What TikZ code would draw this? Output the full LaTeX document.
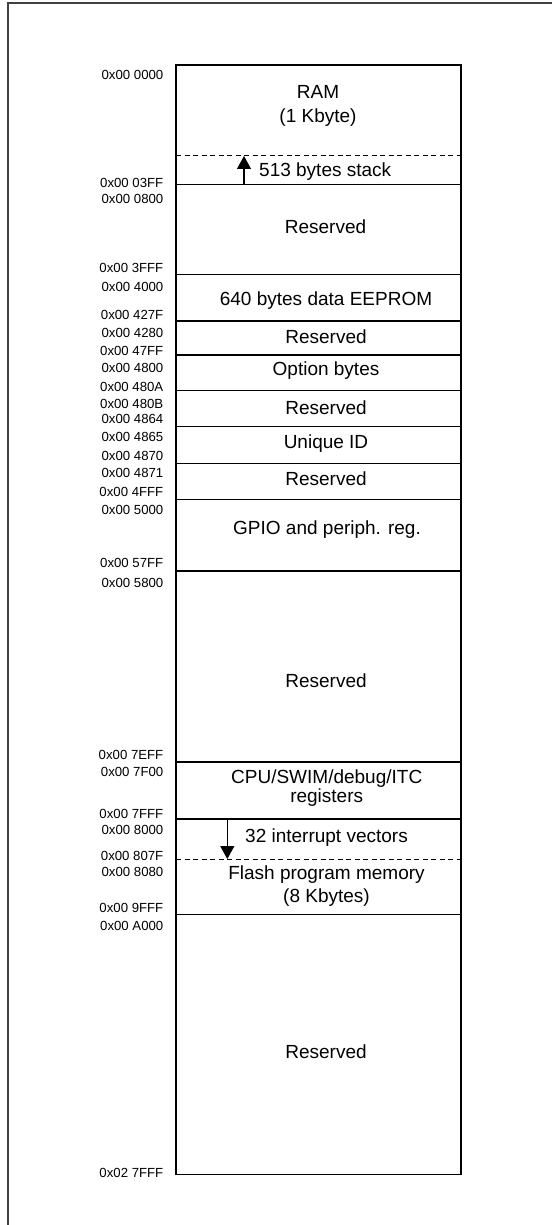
\documentclass[tikz,border=0pt]{standalone}
\usepackage{fontspec}
\setmainfont{Liberation Sans}
\usetikzlibrary{arrows.meta}
\begin{document}
\begin{tikzpicture}[x=1pt,y=-1pt,
  addr/.style={anchor=east,inner sep=0pt,font=\fontsize{13.2}{14}\selectfont},
  lbl/.style={anchor=center,inner sep=0pt,align=center,font=\fontsize{19}{19}\selectfont},
  sep/.style={line width=1.3pt},
  dsep/.style={line width=1pt,dash pattern=on 5pt off 3.5pt},
  arr/.style={line width=1.2pt,-{Triangle[width=14pt,length=13pt]}},
  frame/.style={line width=1.3pt,draw=black!75}]
\useasboundingbox (0,0) rectangle (552,1225);
% outer frame
\draw[frame] (8,1225) -- (8,3) -- (552,3);
% memory column
\def\L{176}\def\R{461}
\draw[sep] (\L,65) rectangle (\R,1174.3);
\foreach \y in {184.7,274.3,321,355,390.7,426.3,463.3,499.3,571,762,819,914.3}
  \draw[sep] (\L,\y) -- (\R,\y);
\draw[dsep] (\L,156) -- (\R,156);
\draw[dsep] (\L,859) -- (\R,859);
% labels inside
\node[lbl] (ram) at (318,91.7) {RAM};
\node[lbl] (ramsz) at (318,118) {(1 Kbyte)};
\node[lbl,anchor=west] (stack) at (259,171.7) {513 bytes stack};
\node[lbl] (res1) at (325.5,226.7) {Reserved};
\node[lbl] (eep) at (326,300.7) {640 bytes data EEPROM};
\node[lbl] (res2) at (326,336.7) {Reserved};
\node[lbl] (opt) at (326,371) {Option bytes};
\node[lbl] (res3) at (326,407.3) {Reserved};
\node[lbl] (uid) at (326,443.3) {Unique ID};
\node[lbl] (res4) at (326,478.3) {Reserved};
\node[lbl] (gpio) at (327,530) {GPIO and periph. reg.};
\node[lbl] (res5) at (326,681) {Reserved};
\node[lbl] (cpu) at (326.7,778.3) {CPU/SWIM/debug/ITC};
\node[lbl] (cpu2) at (326.7,797.3) {registers};
\node[lbl] (ivec) at (326.5,837.7) {32 interrupt vectors};
\node[lbl] (flash) at (326.5,875) {Flash program memory};
\node[lbl] (flash2) at (326.5,897.7) {(8 Kbytes)};
\node[lbl] (res6) at (326,1052) {Reserved};
% arrows
\coordinate (sa) at (244,184.7);
\coordinate (sb) at (244,156);
\draw[arr] (sa) -- (sb);
\coordinate (va) at (227.3,819);
\coordinate (vb) at (227.3,859);
\draw[arr] (va) -- (vb);
% addresses
\def\ax{163.5}
\node[addr] (a0) at (\ax,75) {0x00 0000};
\node[addr] (a1) at (\ax,183) {0x00 03FF};
\node[addr] (a2) at (\ax,199) {0x00 0800};
\node[addr] (a3) at (\ax,268) {0x00 3FFF};
\node[addr] (a4) at (\ax,287) {0x00 4000};
\node[addr] (a5) at (\ax,315) {0x00 427F};
\node[addr] (a6) at (\ax,332.7) {0x00 4280};
\node[addr] (a7) at (\ax,351) {0x00 47FF};
\node[addr] (a8) at (\ax,368) {0x00 4800};
\node[addr] (a9) at (\ax,386.7) {0x00 480A};
\node[addr] (a10) at (\ax,404) {0x00 480B};
\node[addr] (a11) at (\ax,419) {0x00 4864};
\node[addr] (a12) at (\ax,436.7) {0x00 4865};
\node[addr] (a13) at (\ax,455.7) {0x00 4870};
\node[addr] (a14) at (\ax,472.7) {0x00 4871};
\node[addr] (a15) at (\ax,491.7) {0x00 4FFF};
\node[addr] (a16) at (\ax,510) {0x00 5000};
\node[addr] (a17) at (\ax,562.7) {0x00 57FF};
\node[addr] (a18) at (\ax,582.7) {0x00 5800};
\node[addr] (a19) at (\ax,754.7) {0x00 7EFF};
\node[addr] (a20) at (\ax,771.7) {0x00 7F00};
\node[addr] (a21) at (\ax,814) {0x00 7FFF};
\node[addr] (a22) at (\ax,830) {0x00 8000};
\node[addr] (a23) at (\ax,855.7) {0x00 807F};
\node[addr] (a24) at (\ax,872.3) {0x00 8080};
\node[addr] (a25) at (\ax,908.3) {0x00 9FFF};
\node[addr] (a26) at (\ax,925.7) {0x00 A000};
\node[addr] (a27) at (\ax,1172.7) {0x02 7FFF};
\end{tikzpicture}
\end{document}
